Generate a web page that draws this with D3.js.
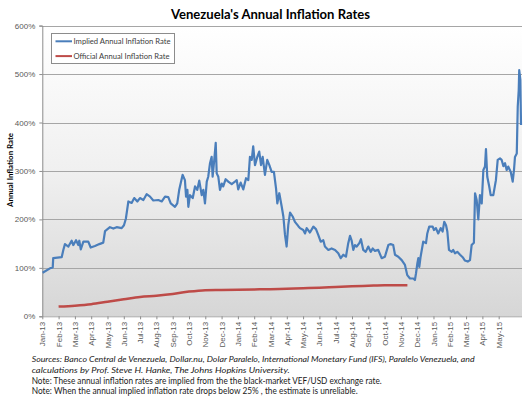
<!DOCTYPE html>
<html>
<head>
<meta charset="utf-8">
<script src="https://cdn.jsdelivr.net/npm/d3@7"></script>
<style>
  body { margin: 0; background: #fff; }
  svg { display: block; font-family: Lato, 'Liberation Sans', sans-serif; }
</style>
</head>
<body>
<div id="chart"></div>
<script>
// month labels on the x axis (index 0 = Jan-13)
const monthLabels = [
  'Jan-13', 'Feb-13', 'Mar-13', 'Apr-13', 'May-13', 'Jun-13', 'Jul-13', 'Aug-13', 'Sep-13', 'Oct-13', 'Nov-13', 'Dec-13',
  'Jan-14', 'Feb-14', 'Mar-14', 'Apr-14', 'May-14', 'Jun-14', 'Jul-14', 'Aug-14', 'Sep-14', 'Oct-14', 'Nov-14', 'Dec-14',
  'Jan-15', 'Feb-15', 'Mar-15', 'Apr-15', 'May-15'
];
const yTicks = [0, 100, 200, 300, 400, 500, 600];

// implied rate: position in months since Jan-13, value in %
const impliedMonth = [
  0.02, 0.47, 0.64, 0.67, 1.19, 1.29, 1.39, 1.60, 1.80, 1.90, 2.07, 2.21, 2.27, 2.36, 2.52, 2.82, 2.97, 3.23, 3.50, 3.74,
  3.85, 4.15, 4.36, 4.56, 4.87, 5.01, 5.13, 5.28, 5.48, 5.64, 5.83, 5.99, 6.20, 6.40, 6.61, 6.81, 7.12, 7.33, 7.53, 7.73,
  7.88, 8.14, 8.28, 8.40, 8.61, 8.75, 8.82, 8.90, 8.96, 9.06, 9.23, 9.37, 9.51, 9.63, 9.78, 9.88, 9.98, 10.09, 10.18, 10.29,
  10.39, 10.45, 10.55, 10.64, 10.70, 10.80, 10.90, 11.01, 11.10, 11.25, 11.41, 11.62, 11.82, 11.93, 12.02, 12.17, 12.33, 12.50, 12.64, 12.74,
  12.85, 12.94, 13.05, 13.19, 13.31, 13.42, 13.52, 13.66, 13.80, 13.93, 14.07, 14.21, 14.34, 14.42, 14.54, 14.69, 14.79, 14.89, 14.99, 15.09,
  15.20, 15.36, 15.50, 15.71, 15.81, 16.01, 16.12, 16.22, 16.42, 16.63, 16.79, 16.93, 17.08, 17.24, 17.34, 17.55, 17.75, 17.96, 18.16, 18.31,
  18.47, 18.63, 18.77, 18.88, 18.98, 19.08, 19.18, 19.29, 19.45, 19.55, 19.69, 19.84, 20.00, 20.15, 20.27, 20.41, 20.61, 20.82, 21.02, 21.23,
  21.37, 21.53, 21.64, 21.84, 22.05, 22.25, 22.39, 22.56, 22.76, 22.86, 22.93, 23.01, 23.07, 23.13, 23.21, 23.37, 23.54, 23.62, 23.74, 23.95,
  24.03, 24.15, 24.29, 24.44, 24.56, 24.66, 24.77, 24.85, 24.95, 25.12, 25.21, 25.32, 25.46, 25.63, 25.79, 25.93, 26.10, 26.24, 26.34, 26.48,
  26.55, 26.65, 26.75, 26.85, 26.96, 27.06, 27.16, 27.22, 27.30, 27.42, 27.51, 27.67, 27.83, 27.94, 28.08, 28.18, 28.29, 28.39, 28.49, 28.59,
  28.74, 28.86, 28.94, 29.00, 29.11, 29.17, 29.23, 29.26, 29.33, 29.37
];
const impliedRate = [
  90, 99, 101, 120, 122, 137, 149, 144, 156, 147, 157, 147, 156, 138, 154, 154, 142, 145, 149, 152,
  176, 184, 181, 184, 182, 188, 202, 237, 234, 244, 237, 244, 240, 252, 247, 239, 240, 237, 247, 246,
  233, 226, 233, 261, 292, 281, 247, 261, 226, 250, 244, 268, 261, 280, 250, 261, 233, 278, 288, 316,
  329, 288, 323, 358, 295, 288, 261, 274, 268, 283, 278, 273, 278, 281, 262, 276, 262, 285, 281, 329,
  323, 351, 312, 329, 340, 312, 329, 292, 323, 312, 298, 298, 264, 233, 254, 226, 206, 168, 144, 188,
  214, 206, 195, 186, 182, 178, 171, 182, 173, 185, 180, 168, 154, 157, 144, 137, 140, 137, 130, 120,
  127, 123, 151, 166, 156, 137, 147, 144, 151, 159, 137, 133, 144, 133, 140, 135, 137, 120, 123, 147,
  149, 147, 127, 123, 116, 106, 85, 78, 78, 75, 89, 109, 120, 102, 123, 154, 151, 171, 185, 185,
  178, 182, 171, 182, 175, 195, 188, 175, 137, 133, 137, 130, 133, 127, 122, 115, 113, 116, 147, 152,
  254, 240, 200, 250, 233, 302, 309, 345, 288, 268, 250, 250, 281, 323, 326, 323, 310, 316, 302, 309,
  298, 278, 302, 329, 336, 433, 467, 508, 488, 395
];

// official rate
const officialMonth = [1, 2, 3, 4, 5, 6, 7, 8, 9, 10, 11, 12, 13, 14, 15, 16, 17, 18, 19, 20, 21, 22.4];
const officialRate = [20, 22, 25, 30, 35, 40, 42.5, 46, 51, 54, 54.5, 55, 55.5, 56, 57, 58, 59, 60.5, 62, 63, 64, 64];

const W = 531, H = 397;
const svg = d3.select('#chart').append('svg').attr('width', W).attr('height', H);

const x = d3.scaleLinear().domain([0, 29.4]).range([42.3, 521.5]);
const y = d3.scaleLinear().domain([0, 600]).range([316.3, 25.6]);

// plot area background gradient
const grad = svg.append('defs').append('linearGradient')
  .attr('id', 'bg').attr('x1', 0).attr('y1', 0).attr('x2', 0).attr('y2', 1);
grad.append('stop').attr('offset', '0%').attr('stop-color', '#ffffff');
grad.append('stop').attr('offset', '50%').attr('stop-color', '#f0f0f0');
grad.append('stop').attr('offset', '100%').attr('stop-color', '#d6d6d6');

svg.append('rect')
  .attr('x', x(0)).attr('y', y(600))
  .attr('width', 522 - x(0)).attr('height', y(0) - y(600))
  .attr('fill', 'url(#bg)');

// gridlines
svg.selectAll('.grid').data(yTicks.slice(1)).enter().append('line')
  .attr('x1', x(0)).attr('x2', 522)
  .attr('y1', d => Math.round(y(d)) + 0.5).attr('y2', d => Math.round(y(d)) + 0.5)
  .attr('stroke', '#a6a6a6').attr('stroke-width', 1);

// y axis
const yAxis = svg.append('g').attr('transform', `translate(${x(0)},0)`)
  .call(d3.axisLeft(y).tickValues(yTicks).tickFormat(d => d + '%').tickSize(3).tickPadding(4));
yAxis.select('.domain').attr('stroke', '#8c8c8c');
yAxis.selectAll('.tick line').attr('stroke', '#8c8c8c');
yAxis.selectAll('text').style('font-size', '8px').style('fill', '#595959');

// x axis
const xAxis = svg.append('g').attr('transform', `translate(0,${y(0)})`)
  .call(d3.axisBottom(x).tickValues(d3.range(monthLabels.length)).tickFormat(i => monthLabels[i]).tickSize(3));
xAxis.select('.domain').attr('stroke', '#a6a6a6').attr('d', `M${x(0)},0.5H522`);
xAxis.selectAll('.tick line').attr('stroke', '#8c8c8c');
xAxis.selectAll('text')
  .attr('transform', 'rotate(-90)')
  .attr('x', -5.5).attr('y', 0).attr('dy', '0.32em')
  .attr('text-anchor', 'end')
  .style('font-size', '8px').style('fill', '#595959');

// lines
const line = d3.line().x(d => x(d[0])).y(d => y(d[1]));
svg.append('path')
  .datum(officialMonth.map((m, i) => [m, officialRate[i]]))
  .attr('d', line.curve(d3.curveMonotoneX))
  .attr('fill', 'none').attr('stroke', '#be4b48').attr('stroke-width', 2.5);
svg.append('path')
  .datum(impliedMonth.map((m, i) => [m, impliedRate[i]]))
  .attr('d', line.curve(d3.curveLinear))
  .attr('fill', 'none').attr('stroke', '#4a7ebb').attr('stroke-width', 2.2)
  .attr('stroke-linejoin', 'round');

// legend
const legend = svg.append('g');
legend.append('rect').attr('x', 51.5).attr('y', 33.5).attr('width', 123).attr('height', 30)
  .attr('fill', '#fff').attr('stroke', '#8c8c8c');
const legendItems = [
  { label: 'Implied Annual Inflation Rate', color: '#4a7ebb', w: 97 },
  { label: 'Official Annual Inflation Rate', color: '#be4b48', w: 96 }
];
legendItems.forEach((d, i) => {
  const ly = 41.3 + i * 14.8;
  legend.append('line').attr('x1', 55.5).attr('x2', 72).attr('y1', ly).attr('y2', ly)
    .attr('stroke', d.color).attr('stroke-width', 2);
  legend.append('text').attr('x', 73.5).attr('y', ly).attr('dy', '0.35em')
    .attr('textLength', d.w).attr('lengthAdjust', 'spacingAndGlyphs')
    .style('font-size', '7.5px').style('fill', '#404040').text(d.label);
});

// title
svg.append('text').attr('x', 270.5).attr('y', 18.5).attr('text-anchor', 'middle')
  .attr('textLength', 199).attr('lengthAdjust', 'spacingAndGlyphs')
  .style('font-size', '14px').style('font-weight', 'bold').style('fill', '#000')
  .text("Venezuela's Annual Inflation Rates");

// y title
svg.append('text').attr('transform', 'translate(10,170) rotate(-90)')
  .attr('text-anchor', 'middle').attr('dy', '0.35em')
  .attr('textLength', 74).attr('lengthAdjust', 'spacingAndGlyphs')
  .style('font-size', '7.5px').style('font-weight', 'bold').style('fill', '#000')
  .text('Annual Inflation Rate');

// footnotes
const notes = [
  { t: 'Sources: Banco Central de Venezuela, Dollar.nu, Dolar Paralelo, International Monetary Fund (IFS), Paralelo Venezuela, and', it: true, y: 359, w: 443 },
  { t: 'calculations by Prof. Steve H. Hanke, The Johns Hopkins University.', it: true, y: 370.5, w: 258 },
  { t: 'Note: These annual inflation rates are implied from the the black-market VEF/USD exchange rate.', it: false, y: 381, w: 350 },
  { t: 'Note: When the annual implied inflation rate drops below 25% , the estimate is unreliable.', it: false, y: 391, w: 326 }
];
svg.selectAll('.note').data(notes).enter().append('text')
  .attr('x', 31.7).attr('y', d => d.y).attr('dy', '0.35em')
  .attr('textLength', d => d.w).attr('lengthAdjust', 'spacingAndGlyphs')
  .style('font-size', '8.5px').style('font-style', d => d.it ? 'italic' : 'normal')
  .style('fill', '#1a1a1a').text(d => d.t);
</script>
</body>
</html>
